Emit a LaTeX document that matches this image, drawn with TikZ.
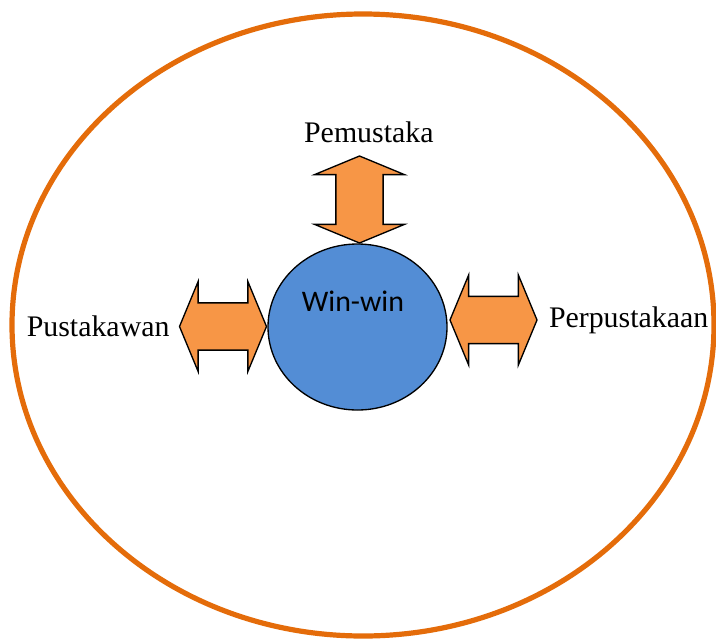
\documentclass[tikz,border=0pt]{standalone}
\usepackage{fontspec}
\setmainfont{Liberation Serif}
\newfontfamily\hubfont{Carlito}
\usetikzlibrary{positioning, shapes.geometric, shapes.arrows}
\definecolor{ringorange}{HTML}{E46C0A}
\definecolor{arroworange}{HTML}{F79646}
\definecolor{hubblue}{HTML}{538DD5}

\begin{document}
\begin{tikzpicture}[
x=0.75pt, y=-0.75pt,
every node/.style={font=\fontsize{22.4}{27}\selectfont},
ring/.style={
draw=ringorange,
line width=3.9pt
},
hub/.style={
ellipse,
draw=black,
fill=hubblue,
line width=1pt,
minimum width=134.25pt,
minimum height=124.5pt,
inner sep=0pt
},
twoway/.style={
double arrow,
draw=black,
fill=arroworange,
line width=1pt,
double arrow head extend=15.75pt,
double arrow tip angle=135,
minimum width=67.5pt,
minimum height=65.25pt,
inner xsep=0pt,
inner ysep=16.875pt
},
party/.style={
inner sep=0pt
}
]
\useasboundingbox (0,0) rectangle (716,639);

% Frame
\draw[ring] (363,325) ellipse [x radius=263.25pt, y radius=233.25pt];

% Nodes
\node[hub] (winwin) at (357.5,327) {};
\node[font=\hubfont\fontsize{22.4}{27}\selectfont, anchor=base] (winlabel)
at ([xshift=-3.4pt, yshift=12pt]winwin.center) {Win-win};

\node[twoway, rotate=90] (toppair) at (359.5,199.5) {};
\node[twoway] (leftpair) at (223,326.5) {};
\node[twoway] (rightpair) at (493.5,320) {};

% Labels
\node[party, above=9pt of toppair.east, xshift=7pt] (pemustaka) {Pemustaka};
\node[party, left=6.75pt of leftpair] (pustakawan) {Pustakawan};
\node[party, right=8.25pt of rightpair] (perpustakaan) {Perpustakaan};

\end{tikzpicture}
\end{document}
